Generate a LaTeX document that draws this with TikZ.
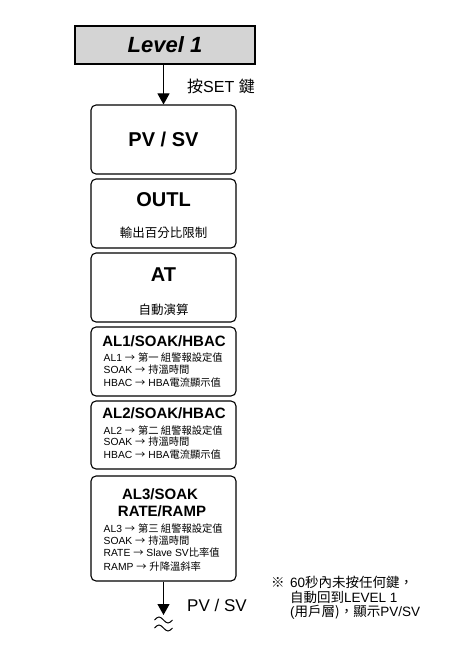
\documentclass[tikz,border=0pt]{standalone}
\usepackage{fontspec}
\setmainfont{Liberation Sans}
\newfontfamily\cjk{Noto Sans CJK TC}
\usetikzlibrary{arrows.meta}
\newcommand{\zh}[1]{{\cjk #1}}
\newcommand{\ar}{{\cjk →}}
\definecolor{lvgray}{HTML}{D4D4D4}
\begin{document}
\begin{tikzpicture}[x=1pt,y=-1pt,
  box/.style={draw,line width=1.1pt,rounded corners=5pt,minimum width=145pt,inner sep=0pt},
  ttl/.style={font=\fontsize{20}{24}\selectfont\bfseries,inner sep=0pt},
  mid/.style={font=\fontsize{15}{18}\selectfont\bfseries,inner sep=0pt},
  sub/.style={font=\fontsize{12.5}{15}\selectfont\cjk,inner sep=0pt},
  sm/.style={font=\fontsize{10.3}{12}\selectfont,inner sep=0pt,anchor=west},
  note/.style={font=\fontsize{13.5}{15}\selectfont,inner sep=0pt,anchor=west},
  arr/.style={line width=1.1pt,-{Triangle[width=12pt,length=11pt]}}]
\useasboundingbox (0,0) rectangle (460,647);
% Level 1
\node[draw,line width=1.1pt,fill=lvgray,minimum width=180pt,minimum height=38pt,inner sep=0pt] (lv) at (165,45) {};
\node[inner sep=0pt,font=\fontsize{22}{26}\selectfont\bfseries\itshape] (lvt) at (165,45) {Level 1};
% boxes
\node[box,minimum height=69pt] (pv) at (163.5,139.5) {};
\node[box,minimum height=69pt] (outl) at (163.5,213.5) {};
\node[box,minimum height=69pt] (at) at (163.5,287.5) {};
\node[box,minimum height=69pt] (al1) at (163.5,361.5) {};
\node[box,minimum height=68pt] (al2) at (163.5,435) {};
\node[box,minimum height=105pt] (al3) at (163.5,528.5) {};
% arrows
\draw[arr] (lv.south -| pv.north) -- (pv.north);
\node[inner sep=0pt,anchor=west,font=\fontsize{16}{18}\selectfont] (set) at (187,86) {\zh{按}SET \zh{鍵}};
\coordinate (end) at (163.5,615);
\draw[arr] (al3.south) -- (end);
\node[inner sep=0pt,anchor=west,font=\fontsize{17}{20}\selectfont] (pvsv) at (187,605) {PV / SV};
% wavy
\draw[line width=1pt] (154.5,620) sin (159,617) cos (163.5,620) sin (168,623) cos (172.5,620);
\draw[line width=1pt] (154.5,628) sin (159,625) cos (163.5,628) sin (168,631) cos (172.5,628);
% texts
\node[ttl] (t1) at (163.5,139) {PV / SV};
\node[ttl] (t2) at (163.5,200) {OUTL};
\node[sub] (s2) at (163.5,233) {輸出百分比限制};
\node[ttl] (t3) at (163.5,275) {AT};
\node[sub] (s3) at (163.5,310) {自動演算};
\node[mid] (t4) at (164,341) {AL1/SOAK/HBAC};
\node[sm] (a1) at (103.5,358) {AL1 \ar{} \zh{第一 組警報設定值}};
\node[sm] (a2) at (103.5,370) {SOAK \ar{} \zh{持溫時間}};
\node[sm] (a3) at (103.5,383) {HBAC \ar{} HBA\zh{電流顯示值}};
\node[mid] (t5) at (164,413.5) {AL2/SOAK/HBAC};
\node[sm] (b1) at (103.5,430.5) {AL2 \ar{} \zh{第二 組警報設定值}};
\node[sm] (b2) at (103.5,442) {SOAK \ar{} \zh{持溫時間}};
\node[sm] (b3) at (103.5,454.5) {HBAC \ar{} HBA\zh{電流顯示值}};
\node[mid] (t6) at (160,494.5) {AL3/SOAK};
\node[mid] (t7) at (162,511) {RATE/RAMP};
\node[sm] (c1) at (103.5,529) {AL3 \ar{} \zh{第三 組警報設定值}};
\node[sm] (c2) at (103.5,541) {SOAK \ar{} \zh{持溫時間}};
\node[sm] (c3) at (103.5,553) {RATE \ar{} Slave SV\zh{比率值}};
\node[sm] (c4) at (103.5,566.5) {RAMP \ar{} \zh{升降溫斜率}};
% note
\node[note] (n0) at (271,582) {\zh{※}};
\node[note] (n1) at (290,582) {60\zh{秒內未按任何鍵，}};
\node[note] (n2) at (290,597) {\zh{自動回到}LEVEL 1};
\node[note] (n3) at (290,612) {(\zh{用戶層)，顯示}PV/SV};
\end{tikzpicture}
\end{document}
